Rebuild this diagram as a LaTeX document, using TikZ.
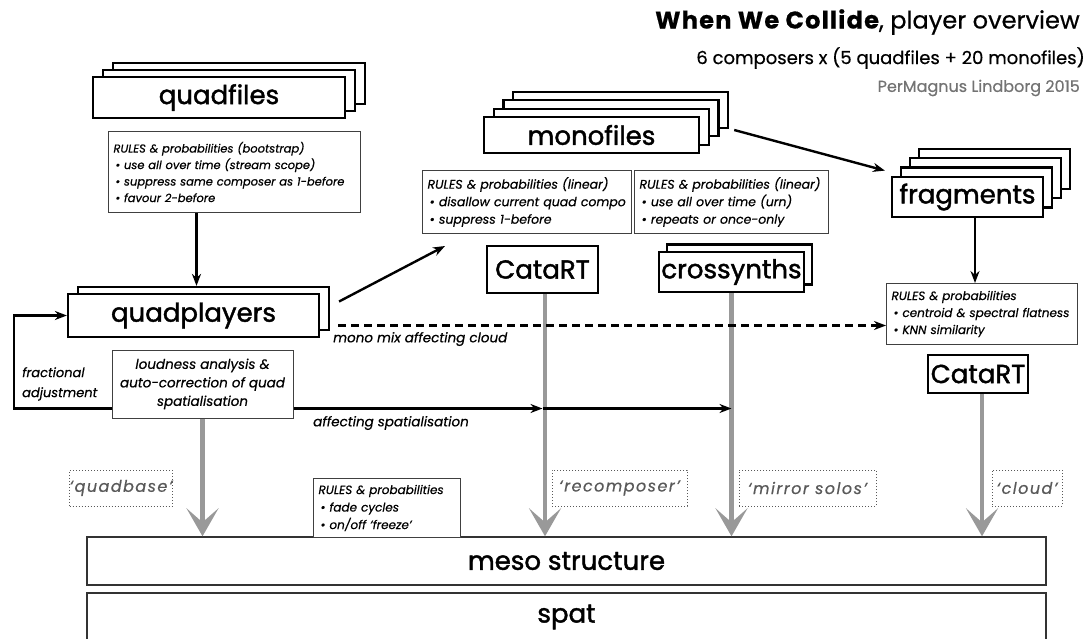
\documentclass[tikz,border=0pt]{standalone}
\usepackage{fontspec}
\setmainfont{Poppins}[FakeBold=0.5]
\newfontfamily\medfont{Poppins}[FakeBold=1.6]
\usetikzlibrary{arrows.meta,calc}
\begin{document}
\begin{tikzpicture}[x=1pt,y=-1pt,
  stackbox/.style={draw=black,line width=2.2pt,fill=white,inner sep=0pt,font=\medfont\fontsize{26}{28}\selectfont},
  rulebox/.style={draw=black!75,line width=1pt,fill=white,anchor=north west,align=left,inner xsep=5pt,inner ysep=3pt,font=\fontsize{11.5}{16.5}\selectfont\itshape},
  dotlabel/.style={draw=black!65,dotted,line width=1pt,inner sep=0pt,text=black!65,font=\fontsize{16}{18}\selectfont\itshape\addfontfeature{LetterSpace=9}},
  blk/.style={draw=black,line width=2.4pt,-{Stealth[length=12pt,width=9pt]}},
  gryarr/.style={draw=black!40,line width=4.5pt,-{Stealth[length=28pt,width=32pt,inset=14pt]}},
  lbl/.style={anchor=west,inner sep=0pt,font=\fontsize{13.5}{15}\selectfont\itshape},
  bigbox/.style={draw=black!80,line width=1.4pt,fill=white,inner sep=0pt,font=\medfont\fontsize{26}{28}\selectfont}
]
\useasboundingbox (0,0) rectangle (1090,639);

% title
\node[anchor=west,inner sep=0pt,font=\fontsize{24.1}{27}\selectfont] (title) at (655,22)
  {{\bfseries\addfontfeature{LetterSpace=5}When We Collide}, player overview};
\node[anchor=east,inner sep=0pt,font=\fontsize{18}{20}\selectfont] (sub) at (1085,58)
  {6 composers x (5 quadfiles + 20 monofiles)};
\node[anchor=east,inner sep=0pt,text=black!55,font=\fontsize{16}{18}\selectfont] (auth) at (1080,88)
  {PerMagnus Lindborg 2015};

% quadfiles stack
\node[stackbox,minimum width=252,minimum height=41] (qf3) at (239,83.5) {};
\node[stackbox,minimum width=252,minimum height=41] (qf2) at (229,90.5) {};
\node[stackbox,minimum width=252,minimum height=41] (qf) at (219,97.5) {quadfiles};

% quadfiles rules
\node[rulebox,text width=242,minimum height=81] (qr) at (108,131)
  {RULES \& probabilities (bootstrap)\\
   \,• use all over time (stream scope)\\
   \,• suppress same composer as 1-before\\
   \,• favour 2-before};

% monofiles stack
\node[stackbox,minimum width=215,minimum height=36] (mf4) at (620.6,110) {};
\node[stackbox,minimum width=215,minimum height=36] (mf3) at (610.9,118.3) {};
\node[stackbox,minimum width=215,minimum height=36] (mf2) at (601.2,126.7) {};
\node[stackbox,minimum width=215,minimum height=36] (mf) at (591.5,135) {monofiles};

% mono rules
\node[rulebox,text width=199,minimum height=63,font=\fontsize{12.5}{17.5}\selectfont\itshape] (mr1) at (422,170)
  {RULES \& probabilities (linear)\\
   \,• disallow current quad compo\\
   \,• suppress 1-before};
\node[rulebox,text width=184,minimum height=63,font=\fontsize{12.5}{17.5}\selectfont\itshape] (mr2) at (634,170)
  {RULES \& probabilities (linear)\\
   \,• use all over time (urn)\\
   \,• repeats or once-only};

% fragments stack
\node[stackbox,minimum width=151,minimum height=40] (fr4) at (994.5,169) {};
\node[stackbox,minimum width=151,minimum height=40] (fr3) at (985.5,178.3) {};
\node[stackbox,minimum width=151,minimum height=40] (fr2) at (976.5,187.6) {};
\node[stackbox,minimum width=151,minimum height=40] (fr) at (967.5,197) {fragments};

% fragments rules
\node[rulebox,text width=181,minimum height=61,font=\fontsize{12}{17}\selectfont\itshape] (fru) at (886,283)
  {RULES \& probabilities\\
   \,• centroid \& spectral flatness\\
   \,• KNN similarity};

% quadplayers
\node[stackbox,minimum width=251,minimum height=43] (qp2) at (203.5,308.5) {};
\node[stackbox,minimum width=251,minimum height=43] (qp) at (193.5,315.5) {quadplayers};

% CataRT / crossynths
\node[stackbox,minimum width=111,minimum height=47] (ct1) at (542.5,269.5) {CataRT};
\node[stackbox,minimum width=145,minimum height=40] (cs2) at (739.5,264.5) {};
\node[stackbox,minimum width=145,minimum height=40] (cs) at (731.5,272) {crossynths};
\node[stackbox,minimum width=100,minimum height=38] (ct2) at (978,374) {CataRT};

% loudness box
\node[draw=black!75,line width=1pt,fill=white,minimum width=181,minimum height=68,inner sep=0pt,align=center,
      font=\fontsize{13.5}{18.5}\selectfont\itshape] (lb) at (202.5,384)
  {loudness analysis \&\\auto-correction of quad\\spatialisation};

% meso / spat
\node[bigbox,minimum width=959,minimum height=48] (meso) at (566.5,561) {meso structure};
\node[bigbox,minimum width=959,minimum height=48] (spat) at (566.5,617) {spat};

% gray arrows
\draw[gryarr] (lb.south) -- (lb.south |- meso.north);
\draw[gryarr] ($(ct1.south)+(2.5,0)$) -- ($(ct1.south |- meso.north)+(2.5,0)$);
\draw[gryarr] (cs.south) -- (cs.south |- meso.north);
\draw[gryarr] ($(ct2.south)+(4,0)$) -- ($(ct2.south |- meso.north)+(4,0)$);

% bottom rules box
\node[rulebox,text width=137,minimum height=59,inner ysep=2pt,font=\fontsize{12}{17.5}\selectfont\itshape] (br) at (313,478)
  {RULES \& probabilities\\
   \,• fade cycles\\
   \,• on/off ‘freeze’};

% dotted labels
\node[dotlabel,minimum width=102,minimum height=36] (qb) at (121,488) {‘quadbase’};
\node[dotlabel,minimum width=135,minimum height=36] (rc) at (619.5,488) {‘recomposer’};
\node[dotlabel,minimum width=137,minimum height=36] (ms) at (807.5,488) {‘mirror solos’};
\node[dotlabel,minimum width=70,minimum height=36] (cl) at (1027,488) {‘cloud’};

% black arrows
\draw[blk] ($(qr.south)+(-38,0)$) -- ($(qr.south |- qp2.north)+(-38,0)$);
\coordinate (qpa) at ($(qp2.east)+(9,-7)$);
\coordinate (mra) at ($(mr1.south west)+(23,12)$);
\draw[blk] (qpa) -- (mra);
\coordinate (mfa) at ($(mf4.east)+(5,20)$);
\coordinate (fra) at ($(fr2.west)+(-15,-17)$);
\draw[blk] (mfa) -- (fra);
\draw[blk] ($(fr.south)+(7.5,0)$) -- ($(fr.south |- fru.north)+(7.5,0)$);

% dashed arrow
\coordinate (dsa) at ($(qp2.east)+(8,17)$);
\draw[draw=black,line width=2.4pt,dash pattern=on 8pt off 5pt,-{Stealth[length=12pt,width=9pt]}] (dsa) -- (dsa -| fru.west);
\node[lbl] (mml) at (333,339) {mono mix affecting cloud};

% spatialisation arrows
\coordinate (spy) at ($(lb.south east)+(0,-10)$);
\coordinate (sp1) at (spy -| ct1.south);
\coordinate (sp2) at (spy -| cs.south);
\draw[blk] (spy) -- (sp1);
\draw[blk] (sp1) -- (sp2);
\node[lbl] (asl) at (313,423) {affecting spatialisation};

% feedback loop
\coordinate (fbl) at (14,0);
\draw[blk] (lb.west |- spy) -| (fbl |- qp.west) -- (qp.west);
\node[anchor=north west,inner sep=0pt,align=left,font=\fontsize{13}{20}\selectfont\itshape] (fa) at (22,367) {fractional\\adjustment};
\end{tikzpicture}
\end{document}
